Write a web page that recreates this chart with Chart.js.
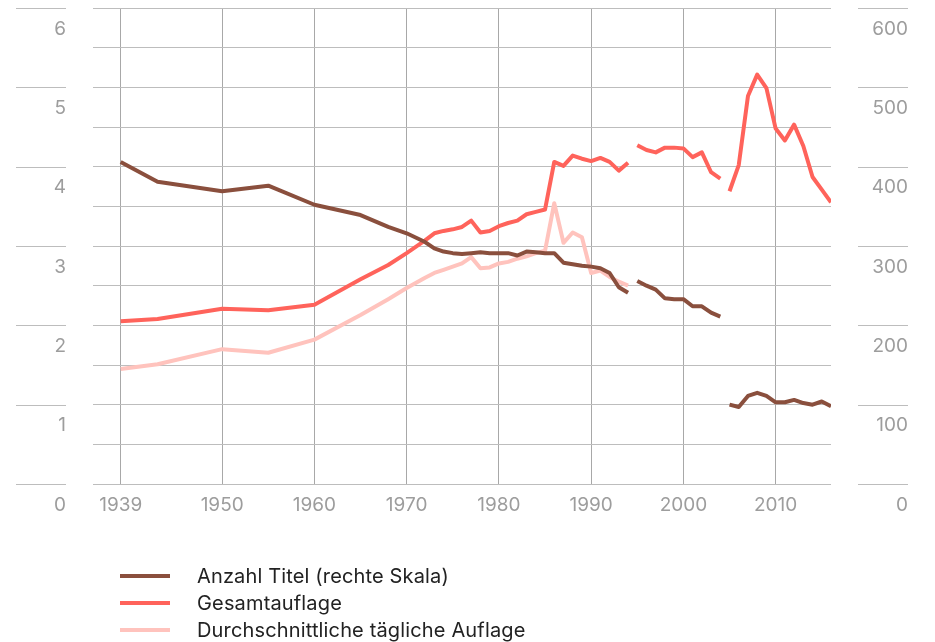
<!DOCTYPE html>
<html lang="de">
<head>
<meta charset="utf-8">
<title>Auflage und Anzahl Titel</title>
<script src="https://cdn.jsdelivr.net/npm/chart.js@4.4.1/dist/chart.umd.min.js"></script>
<style>
    body { margin: 0; background: #fff; font-family: Inter, "Liberation Sans", Arial, sans-serif; }
    .wrap { position: relative; width: 935px; height: 642px; }
    #legend { position: absolute; left: 120px; top: 562px; }
    .legend-row { display: flex; align-items: center; height: 27px; font-size: 20px; letter-spacing: 0.15px; color: #222; }
    .legend-line { width: 50px; height: 4px; margin-right: 27px; }
</style>
</head>
<body>
<div class="wrap">
    <canvas id="chart" width="935" height="642"></canvas>
    <div id="legend"></div>
</div>
<script>
// Years of the survey; the half years only mark a break in the series (values are null there)
const years = [
    1939, 1943, 1950, 1955, 1960, 1965, 1968, 1970, 1972,
    1973, 1974, 1975, 1976, 1977, 1978, 1979, 1980, 1981, 1982, 1983,
    1984, 1985, 1986, 1987, 1988, 1989, 1990, 1991, 1992, 1993, 1994,
    1994.5,
    1995, 1996, 1997, 1998, 1999, 2000, 2001, 2002, 2003, 2004,
    2004.5,
    2005, 2006, 2007, 2008, 2009, 2010, 2011, 2012, 2013, 2014, 2015, 2016
];

// Anzahl Titel (right scale)
const titleCount = [
    406, 381, 369, 376, 352, 339, 324, 316, 305,
    297, 293, 291, 290, 291, 292, 291, 291, 291, 288, 293,
    292, 291, 291, 279, 277, 275, 274, 272, 266, 248, 241,
    null,
    256, 250, 245, 234, 233, 233, 224, 224, 216, 211,
    null,
    100, 97, 111, 115, 111, 103, 103, 106, 102, 100, 104, 98
];

// Gesamtauflage in Mio. (left scale)
const totalCirculation = [
    2.05, 2.08, 2.21, 2.19, 2.26, 2.58, 2.76, 2.91, 3.07,
    3.16, 3.19, 3.21, 3.24, 3.32, 3.17, 3.19, 3.25, 3.29, 3.32, 3.40,
    3.43, 3.46, 4.06, 4.01, 4.14, 4.10, 4.07, 4.11, 4.06, 3.95, 4.05,
    null,
    4.27, 4.21, 4.18, 4.24, 4.24, 4.23, 4.12, 4.18, 3.93, 3.85,
    null,
    3.69, 4.02, 4.89, 5.16, 4.99, 4.48, 4.33, 4.53, 4.26, 3.87, 3.71, 3.55
];

// Durchschnittliche tägliche Auflage in Mio. (left scale, series ends 1994)
const dailyCirculation = [
    1.45, 1.51, 1.70, 1.655, 1.82, 2.13, 2.33, 2.47, 2.60,
    2.66, 2.70, 2.74, 2.78, 2.86, 2.72, 2.73, 2.78, 2.80, 2.84, 2.87,
    2.91, 2.94, 3.54, 3.04, 3.17, 3.11, 2.66, 2.69, 2.61, 2.55, 2.50
];

const yearTicks = [1939, 1950, 1960, 1970, 1980, 1990, 2000, 2010];
const seriesLabels = ['Anzahl Titel (rechte Skala)', 'Gesamtauflage', 'Durchschnittliche tägliche Auflage'];
const seriesColors = ['#8a4f3d', '#ff635b', '#ffc3bd'];

const axisFont = { family: 'Inter, "Liberation Sans", Arial, sans-serif', size: 19 };
const axisColor = '#9d9d9d';
const gridColor = '#bdbdbd';

const toPoints = values => years.map((x, i) => ({ x, y: i < values.length ? values[i] : null }));

// Short tick lines beside the axis labels, at every whole value
const outerTicks = {
    id: 'outerTicks',
    afterDraw(chart) {
        const { ctx, chartArea } = chart;
        const scale = chart.scales.y;
        ctx.save();
        ctx.strokeStyle = gridColor;
        ctx.lineWidth = 1;
        scale.ticks.forEach(t => {
            if (!Number.isInteger(t.value)) return;
            const py = Math.round(scale.getPixelForValue(t.value)) + 0.5;
            ctx.beginPath();
            ctx.moveTo(chartArea.left - 77, py);
            ctx.lineTo(chartArea.left - 27, py);
            ctx.moveTo(chartArea.right + 27, py);
            ctx.lineTo(chartArea.right + 77, py);
            ctx.stroke();
        });
        ctx.restore();
    }
};

const chart = new Chart(document.getElementById('chart').getContext('2d'), {
    type: 'line',
    data: {
        datasets: [
            { label: seriesLabels[0], data: toPoints(titleCount), yAxisID: 'y1', borderColor: seriesColors[0] },
            { label: seriesLabels[1], data: toPoints(totalCirculation), yAxisID: 'y', borderColor: seriesColors[1] },
            { label: seriesLabels[2], data: toPoints(dailyCirculation), yAxisID: 'y', borderColor: seriesColors[2] }
        ]
    },
    options: {
        responsive: false,
        animation: false,
        spanGaps: false,
        layout: { padding: { top: 8, left: 0, right: 27, bottom: 118 } },
        elements: {
            point: { radius: 0 },
            line: { borderWidth: 4, tension: 0, borderCapStyle: 'butt', borderJoinStyle: 'round' }
        },
        plugins: { legend: { display: false }, tooltip: { enabled: false } },
        scales: {
            x: {
                type: 'linear',
                min: 1936,
                max: 2016,
                afterBuildTicks: scale => { scale.ticks = yearTicks.map(value => ({ value })); },
                afterFit: scale => { scale.height = 40; scale.paddingLeft = 0; scale.paddingRight = 0; },
                grid: { color: '#a8a8a8', drawTicks: false },
                border: { display: false },
                ticks: { color: axisColor, font: axisFont, padding: 10, maxRotation: 0, callback: v => String(v) }
            },
            y: {
                position: 'left',
                min: 0,
                max: 6,
                afterFit: scale => { scale.width = 93; scale.paddingTop = 0; scale.paddingBottom = 0; },
                grid: { color: gridColor, drawTicks: false },
                border: { display: false },
                ticks: {
                    stepSize: 0.5,
                    color: axisColor,
                    font: axisFont,
                    padding: 27,
                    labelOffset: 21,
                    callback: v => Number.isInteger(v) ? v : ''
                }
            },
            y1: {
                position: 'right',
                min: 0,
                max: 600,
                afterFit: scale => { scale.width = 77; scale.paddingTop = 0; scale.paddingBottom = 0; },
                grid: { drawOnChartArea: false, drawTicks: false },
                border: { display: false },
                ticks: {
                    stepSize: 50,
                    color: axisColor,
                    font: axisFont,
                    crossAlign: 'far',
                    padding: 27,
                    labelOffset: 21,
                    callback: v => v % 100 === 0 ? v : ''
                }
            }
        }
    },
    plugins: [outerTicks]
});

// Legend as a list below the chart
document.getElementById('legend').innerHTML = chart.data.datasets.map(ds => `
    <div class="legend-row">
        <span class="legend-line" style="background:${ds.borderColor}"></span>
        <span>${ds.label}</span>
    </div>
`).join('');
</script>
</body>
</html>
